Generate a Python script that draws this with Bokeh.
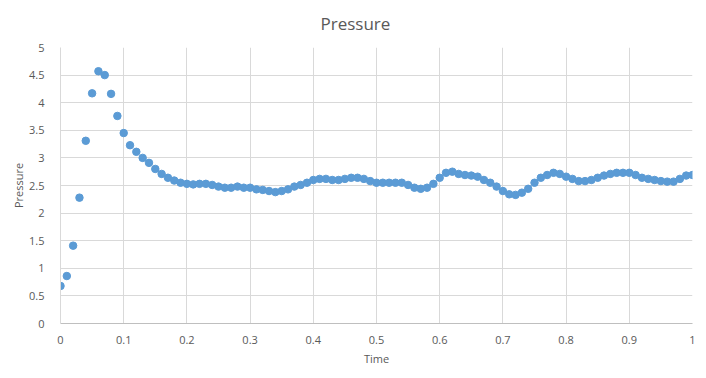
from bokeh.plotting import figure
from bokeh.models import Range1d, FixedTicker
from bokeh.embed import file_html
from bokeh.resources import INLINE

time = [round(i * 0.01, 2) for i in range(101)]
pressure = [
    0.68, 0.86, 1.41, 2.28, 3.31, 4.17, 4.57, 4.50, 4.16, 3.76,
    3.45, 3.23, 3.11, 3.00, 2.91, 2.80, 2.71, 2.64, 2.59, 2.55,
    2.53, 2.52, 2.53, 2.53, 2.51, 2.48, 2.46, 2.46, 2.48, 2.46,
    2.46, 2.43, 2.42, 2.40, 2.38, 2.40, 2.43, 2.48, 2.51, 2.55,
    2.60, 2.62, 2.62, 2.60, 2.60, 2.62, 2.64, 2.64, 2.62, 2.58,
    2.55, 2.55, 2.55, 2.55, 2.55, 2.51, 2.46, 2.44, 2.46, 2.53,
    2.64, 2.73, 2.75, 2.71, 2.69, 2.68, 2.66, 2.60, 2.55, 2.48,
    2.40, 2.34, 2.33, 2.37, 2.44, 2.55, 2.64, 2.69, 2.73, 2.71,
    2.66, 2.62, 2.58, 2.58, 2.60, 2.64, 2.68, 2.71, 2.73, 2.73,
    2.73, 2.69, 2.64, 2.62, 2.60, 2.58, 2.57, 2.57, 2.62, 2.68,
    2.69,
]
x_ticks = [0, 0.1, 0.2, 0.3, 0.4, 0.5, 0.6, 0.7, 0.8, 0.9, 1]
y_ticks = [0, 0.5, 1, 1.5, 2, 2.5, 3, 3.5, 4, 4.5, 5]
x_tick_labels = {0: "0", 0.1: "0.1", 0.2: "0.2", 0.3: "0.3", 0.4: "0.4", 0.5: "0.5",
                 0.6: "0.6", 0.7: "0.7", 0.8: "0.8", 0.9: "0.9", 1: "1"}
y_tick_labels = {0: "0", 0.5: "0.5", 1: "1", 1.5: "1.5", 2: "2", 2.5: "2.5",
                 3: "3", 3.5: "3.5", 4: "4", 4.5: "4.5", 5: "5"}

FONT = "Open Sans"
TXT = "#595959"

p = figure(frame_width=632, frame_height=276, output_backend="svg", toolbar_location=None,
           x_range=Range1d(0, 1), y_range=Range1d(0, 5),
           min_border_left=60, min_border_right=14, min_border_top=46, min_border_bottom=56)
p.outline_line_color = None
p.background_fill_color = "white"
p.border_fill_color = "white"

p.title.text = "Pressure"
p.title.align = "left"
p.title.offset = 260
p.title.standoff = 22
p.title.vertical_align = "top"
p.title.text_font = FONT
p.title.text_font_size = "17px"
p.title.text_font_style = "normal"
p.title.text_color = TXT

p.scatter(time, pressure, size=7.5, color="#5B9BD5", line_color="#5B9BD5")

for ax in (p.xaxis[0], p.yaxis[0]):
    ax.major_tick_line_color = None
    ax.minor_tick_line_color = None
    ax.major_label_text_font = FONT
    ax.major_label_text_font_size = "11px"
    ax.major_label_text_color = TXT
    ax.axis_label_text_font = FONT
    ax.axis_label_text_font_size = "11px"
    ax.axis_label_text_font_style = "normal"
    ax.axis_label_text_color = TXT
p.xaxis.axis_line_color = "#bfbfbf"
p.yaxis.axis_line_color = "#d9d9d9"

p.xaxis.ticker = FixedTicker(ticks=x_ticks)
p.yaxis.ticker = FixedTicker(ticks=y_ticks)
p.xaxis.major_label_overrides = x_tick_labels
p.yaxis.major_label_overrides = y_tick_labels
p.xaxis.axis_label = "Time"
p.yaxis.axis_label = "Pressure"
p.xaxis.major_label_standoff = 6
p.yaxis.major_label_standoff = 10
p.xaxis.axis_label_standoff = 4
p.yaxis.axis_label_standoff = 0

p.xgrid.ticker = FixedTicker(ticks=x_ticks)
p.ygrid.ticker = FixedTicker(ticks=y_ticks)
p.xgrid.grid_line_color = "#d9d9d9"
p.ygrid.grid_line_color = "#d9d9d9"

open("out.html", "w").write(file_html(p, INLINE))
